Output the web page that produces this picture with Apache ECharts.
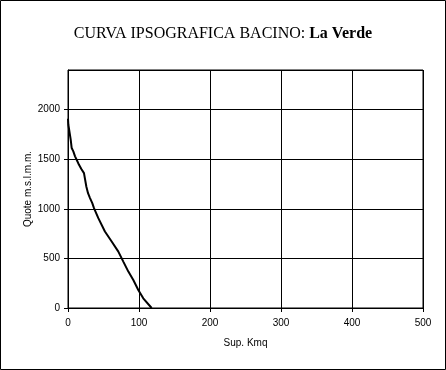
<!DOCTYPE html>
<html><head><meta charset="utf-8">
<script src="https://cdn.jsdelivr.net/npm/echarts@6/dist/echarts.min.js"></script>
<style>html,body{margin:0;padding:0;background:#fff}#c{width:446px;height:370px}</style>
</head><body><div id="c"></div>
<script>
const surface = [0, 0.5, 2.3, 3.8, 5.2, 7.5, 9.9, 12.2, 15.5, 18.8, 22.5, 24.9, 25.8, 28.2, 31, 34.2, 36.6, 42.7, 52, 61.5, 70.9, 77.9, 85, 92, 99, 106, 117.8];
const quota = [1909, 1848, 1832, 1697, 1613, 1579, 1529, 1495, 1444, 1401, 1360, 1343, 1225, 1158, 1108, 1057, 1007, 906, 771, 670, 569, 468, 367, 283, 182, 98, 0];
const titleMain = 'CURVA IPSOGRAFICA BACINO: ';
const titleBasin = 'La Verde';
const xName = 'Sup. Kmq';
const yName = 'Quote m.s.l.m.m.';

const chart = echarts.init(document.getElementById('c'), null, {renderer: 'canvas'});
chart.setOption({
  animation: false,
  backgroundColor: '#fff',
  title: {
    text: '{a|' + titleMain + '}{b|' + titleBasin + '}',
    left: 'center', top: 21,
    textStyle: {
      fontWeight: 'normal',
      rich: {
        a: {fontFamily: 'Liberation Serif', fontSize: 16, fontWeight: 'normal', color: '#000'},
        b: {fontFamily: 'Liberation Serif', fontSize: 16, fontWeight: 'bold', color: '#000'}
      }
    }
  },
  graphic: [{type: 'rect', shape: {x: 0.5, y: 0.5, width: 445, height: 369}, style: {fill: 'none', stroke: '#000', lineWidth: 1}}],
  grid: {left: 68, top: 70, right: 23, bottom: 62, show: true, borderColor: '#000', borderWidth: 1, backgroundColor: 'transparent'},
  xAxis: {
    type: 'value', min: 0, max: 500, interval: 100,
    name: xName, nameLocation: 'middle', nameGap: 30,
    nameTextStyle: {fontFamily: 'Liberation Sans', fontSize: 10, color: '#000'},
    axisLine: {lineStyle: {color: '#000'}},
    axisTick: {show: true, length: 4, lineStyle: {color: '#000'}},
    axisLabel: {fontFamily: 'Liberation Sans', fontSize: 10, color: '#000', margin: 10, formatter: v => String(v)},
    splitLine: {show: true, lineStyle: {color: '#000', width: 1}}
  },
  yAxis: {
    type: 'value', min: 0, max: 2400, interval: 500,
    name: yName, nameLocation: 'middle', nameGap: 35, nameMoveOverlap: false,
    nameTextStyle: {fontFamily: 'Liberation Sans', fontSize: 10, color: '#000'},
    axisLine: {show: true, lineStyle: {color: '#000'}},
    axisTick: {show: true, length: 4, lineStyle: {color: '#000'}},
    axisLabel: {fontFamily: 'Liberation Sans', fontSize: 10, color: '#000', margin: 8, showMaxLabel: false, formatter: v => String(v)},
    splitLine: {show: true, lineStyle: {color: '#000', width: 1}}
  },
  series: [{
    type: 'line',
    data: surface.map((x, i) => [x, quota[i]]),
    showSymbol: false,
    lineStyle: {color: '#000', width: 2},
    itemStyle: {color: '#000'}
  }]
});
</script></body></html>
